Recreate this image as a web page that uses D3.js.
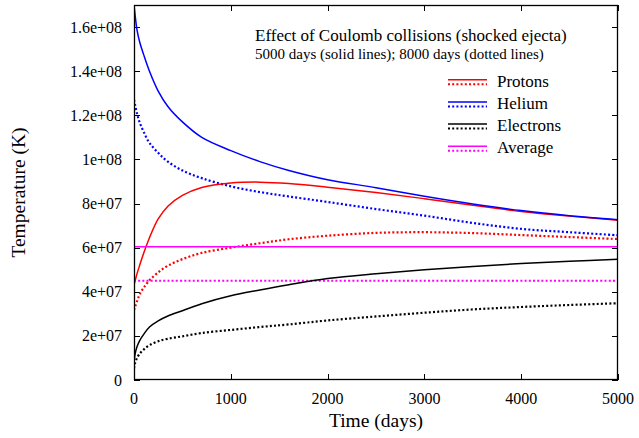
<!DOCTYPE html>
<html>
<head>
<meta charset="utf-8">
<script src="https://cdn.jsdelivr.net/npm/d3@7"></script>
<style>
  html, body { margin: 0; padding: 0; background: #fff; }
  svg { display: block; }
</style>
</head>
<body>
<svg id="chart" width="639" height="438"></svg>
<script>
// ---- Data (temperatures in units of 1e7 K) ----
const UNIT = 1e7;
const time = [0, 10, 30, 60, 100, 160, 250, 350, 500, 700, 1000, 1300, 1600, 2000, 2500, 3000, 3500, 4000, 4500, 5000];

const protons5000   = [4.31, 4.47, 4.80, 5.22, 5.75, 6.45, 7.30, 7.88, 8.37, 8.73, 8.93, 8.97, 8.91, 8.74, 8.50, 8.22, 7.92, 7.64, 7.43, 7.24];
const protons8000   = [3.17, 3.30, 3.55, 3.90, 4.18, 4.52, 4.88, 5.18, 5.48, 5.76, 6.00, 6.20, 6.38, 6.54, 6.67, 6.70, 6.66, 6.57, 6.48, 6.39];
const helium5000    = [17.0, 16.6, 15.9, 15.3, 14.75, 14.0, 13.1, 12.4, 11.7, 11.0, 10.4, 9.9, 9.5, 9.08, 8.72, 8.33, 7.98, 7.68, 7.45, 7.27];
const helium8000    = [12.7, 12.5, 12.1, 11.66, 11.25, 10.75, 10.3, 9.9, 9.5, 9.15, 8.78, 8.52, 8.32, 8.07, 7.75, 7.45, 7.12, 6.85, 6.70, 6.56];
const electrons5000 = [0.60, 1.15, 1.50, 1.80, 2.07, 2.40, 2.68, 2.90, 3.14, 3.46, 3.82, 4.08, 4.32, 4.60, 4.82, 5.00, 5.15, 5.28, 5.38, 5.47];
const electrons8000 = [0.53, 0.75, 0.98, 1.20, 1.38, 1.58, 1.76, 1.87, 1.98, 2.13, 2.27, 2.40, 2.52, 2.70, 2.88, 3.05, 3.20, 3.31, 3.40, 3.48];
const average5000   = [6.04, 6.04, 6.04, 6.04, 6.04, 6.04, 6.04, 6.04, 6.04, 6.04, 6.04, 6.04, 6.04, 6.04, 6.04, 6.04, 6.04, 6.04, 6.04, 6.04];
const average8000   = [4.50, 4.50, 4.50, 4.50, 4.50, 4.50, 4.50, 4.50, 4.50, 4.50, 4.50, 4.50, 4.50, 4.50, 4.50, 4.50, 4.50, 4.50, 4.50, 4.50];

const seriesNames  = ["Protons", "Helium", "Electrons", "Average"];
const seriesColors = ["#ff0000", "#0000ff", "#000000", "#ff00ff"];
const solidData    = [protons5000, helium5000, electrons5000, average5000];
const dottedData   = [protons8000, helium8000, electrons8000, average8000];

const xTicks = [0, 1000, 2000, 3000, 4000, 5000];
const yTicks = [0, 2e7, 4e7, 6e7, 8e7, 1e8, 1.2e8, 1.4e8, 1.6e8];
const yTickLabels = ["0", "2e+07", "4e+07", "6e+07", "8e+07", "1e+08", "1.2e+08", "1.4e+08", "1.6e+08"];

const titleText = "Effect of Coulomb collisions (shocked ejecta)";
const subtitleText = "5000 days (solid lines); 8000 days (dotted lines)";
const xLabel = "Time (days)";
const yLabel = "Temperature (K)";

// ---- Layout ----
const FONT = "Liberation Serif";
const svg = d3.select("#chart");
const L = 134, R = 618, T = 5, B = 380;
const x = d3.scaleLinear().domain([0, 5000]).range([L, R]);
const y = d3.scaleLinear().domain([0, 1.7e8]).range([B, T]);

svg.append("defs").append("clipPath").attr("id", "clip")
  .append("rect").attr("x", L).attr("y", T).attr("width", R - L).attr("height", B - T);

// Ticks (gnuplot-like inward, mirrored)
const tickLen = 6;
const tg = svg.append("g").attr("stroke", "#000").attr("stroke-width", 1);
yTicks.forEach(v => {
  const yy = Math.round(y(v)) + 0.5;
  tg.append("line").attr("x1", L).attr("x2", L + tickLen).attr("y1", yy).attr("y2", yy);
  tg.append("line").attr("x1", R - tickLen).attr("x2", R).attr("y1", yy).attr("y2", yy);
});
xTicks.forEach(v => {
  const xx = Math.round(x(v)) + 0.5;
  tg.append("line").attr("x1", xx).attr("x2", xx).attr("y1", B).attr("y2", B - tickLen);
  tg.append("line").attr("x1", xx).attr("x2", xx).attr("y1", T).attr("y2", T + tickLen);
});

// Tick labels
svg.append("g").selectAll("text").data(yTicks).join("text")
  .attr("font-family", FONT)
  .attr("x", L - 12).attr("y", d => y(d)).attr("dy", "0.35em")
  .attr("text-anchor", "end").attr("font-size", 16)
  .text((d, i) => yTickLabels[i]);
svg.append("g").selectAll("text").data(xTicks).join("text")
  .attr("font-family", FONT)
  .attr("x", d => x(d)).attr("y", 404)
  .attr("text-anchor", "middle").attr("font-size", 16)
  .text(d => d3.format("d")(d));

// Axis titles
svg.append("text").attr("font-family", FONT)
  .attr("x", (L + R) / 2).attr("y", 427).attr("text-anchor", "middle")
  .attr("font-size", 19.5).text(xLabel);
svg.append("text").attr("font-family", FONT)
  .attr("transform", `translate(25,${(T + B) / 2}) rotate(-90)`)
  .attr("text-anchor", "middle").attr("font-size", 19.5).text(yLabel);

// Lines
const line = d3.line().x((d, i) => x(time[i])).y(d => y(d * UNIT)).curve(d3.curveCatmullRom.alpha(0.5));
const lg = svg.append("g").attr("clip-path", "url(#clip)").attr("fill", "none");
seriesNames.forEach((n, k) => {
  lg.append("path").datum(dottedData[k]).attr("d", line)
    .attr("stroke", seriesColors[k]).attr("stroke-width", 2.2).attr("stroke-dasharray", "2,2.2");
});
seriesNames.forEach((n, k) => {
  lg.append("path").datum(solidData[k]).attr("d", line)
    .attr("stroke", seriesColors[k]).attr("stroke-width", 1.5);
});

// Frame
svg.append("rect").attr("x", L + 0.5).attr("y", T + 0.5).attr("width", R - L - 1).attr("height", B - T - 1)
  .attr("fill", "none").attr("stroke", "#000").attr("stroke-width", 1.3);

// Title
svg.append("text").attr("font-family", FONT).attr("x", 255).attr("y", 41).attr("font-size", 17).text(titleText);
svg.append("text").attr("font-family", FONT).attr("x", 255).attr("y", 58.5).attr("font-size", 15).text(subtitleText);

// Legend
const legG = svg.append("g");
seriesNames.forEach((n, k) => {
  const base = 86.7 + 22.2 * k;
  legG.append("line").attr("x1", 448).attr("x2", 487).attr("y1", base - 7).attr("y2", base - 7)
    .attr("stroke", seriesColors[k]).attr("stroke-width", 1.5);
  legG.append("line").attr("x1", 448).attr("x2", 487).attr("y1", base - 2.5).attr("y2", base - 2.5)
    .attr("stroke", seriesColors[k]).attr("stroke-width", 2).attr("stroke-dasharray", "2,2.2");
  legG.append("text").attr("font-family", FONT).attr("x", 497).attr("y", base).attr("font-size", 17).text(n);
});
</script>
</body>
</html>
